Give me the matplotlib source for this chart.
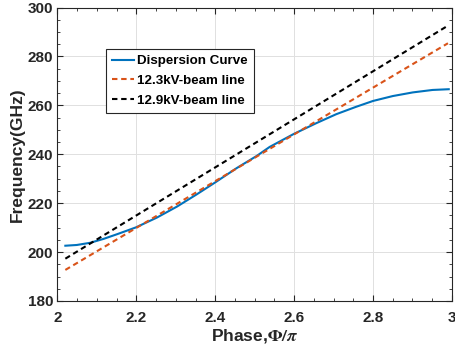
import numpy as np
import matplotlib
matplotlib.use("Agg")
import matplotlib.pyplot as plt
from matplotlib.ticker import MultipleLocator

plt.rcParams['font.family'] = ['Liberation Sans', 'DejaVu Sans']
plt.rcParams['font.weight'] = 'bold'
plt.rcParams['mathtext.fontset'] = 'stix'

# dispersion curve
phase = [2.020, 2.049, 2.083, 2.117, 2.151, 2.199, 2.252, 2.303, 2.353, 2.400,
         2.454, 2.505, 2.538, 2.599, 2.656, 2.707, 2.757, 2.800, 2.850, 2.901,
         2.951, 2.992]
freq = [202.6, 202.9, 203.8, 205.4, 207.3, 210.1, 214.1, 218.6, 223.6, 228.5,
        234.3, 239.3, 243.0, 248.3, 252.7, 256.4, 259.4, 261.8, 263.8, 265.3,
        266.3, 266.6]

# beam lines (end points)
beam_x = [2.02, 2.99]
beam_123 = [192.7, 285.4]
beam_129 = [197.3, 292.6]

fig = plt.figure(figsize=(4.56, 3.51), dpi=100)
ax = fig.add_axes([0.126, 0.1425, 0.865, 0.836])

ax.plot(phase, freq, color=(0, 0.447, 0.741), lw=1.5, label='Dispersion Curve')
ax.plot(beam_x, beam_123, '--', dashes=(2.6, 1.8), color=(0.85, 0.325, 0.098), lw=1.5,
        label='12.3kV-beam line')
ax.plot(beam_x, beam_129, '--', dashes=(2.6, 1.8), color='k', lw=1.5, label='12.9kV-beam line')

ax.set_xlim(2, 3)
ax.set_ylim(180, 300)
ax.set_xticks([2, 2.2, 2.4, 2.6, 2.8, 3])
ax.set_xticklabels(['2', '2.2', '2.4', '2.6', '2.8', '3'])
ax.set_yticks([180, 200, 220, 240, 260, 280, 300])
ax.xaxis.set_minor_locator(MultipleLocator(0.05))
ax.yaxis.set_minor_locator(MultipleLocator(5))
ax.tick_params(which='both', direction='in', top=True, right=True, colors='0.15',
               labelsize=11, labelcolor='0.15')
ax.tick_params(which='major', length=4)
ax.tick_params(which='minor', length=2)
ax.tick_params(axis='x', pad=7)
ax.tick_params(axis='y', pad=3)
for s in ax.spines.values():
    s.set_color('0.15')
    s.set_linewidth(0.8)
ax.grid(True, color='0.88', lw=0.7)
ax.set_axisbelow(True)

ax.set_xlabel(r'Phase,$\Phi/\pi$', fontsize=12.5, fontweight='bold', color='0.15', labelpad=2)
ax.set_ylabel('Frequency(GHz)', fontsize=12.5, fontweight='bold', color='0.15', labelpad=2)

leg = ax.legend(loc='upper left', bbox_to_anchor=(0.122, 0.859), fontsize=9.6,
                frameon=True, fancybox=False, edgecolor='0.15', framealpha=1,
                handlelength=1.7, borderpad=0.45, labelspacing=0.55, handletextpad=0.2,
                borderaxespad=0)
leg.get_frame().set_linewidth(0.8)
for t in leg.get_texts():
    t.set_fontweight('bold')

fig.savefig('out.png', dpi=100)
